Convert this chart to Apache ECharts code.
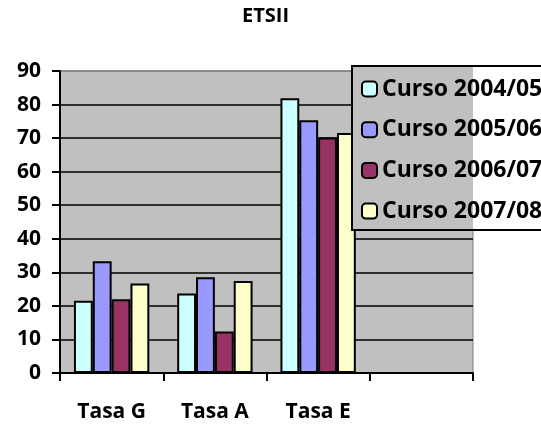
<!DOCTYPE html>
<html>
<head>
<meta charset="utf-8">
<script src="https://cdn.jsdelivr.net/npm/echarts@6/dist/echarts.min.js"></script>
<style>
  html, body { margin: 0; padding: 0; background: #fff; }
  #chart { width: 541px; height: 426px; }
</style>
</head>
<body>
<div id="chart"></div>
<script>
// Rates per course year, by category (fourth slot left empty)
const categories = ['Tasa G', 'Tasa A', 'Tasa E', ''];
const seriesNames = ['Curso 2004/05', 'Curso 2005/06', 'Curso 2006/07', 'Curso 2007/08'];
const curso0405 = [21.5, 23.7, 81.9, null];
const curso0506 = [33.3, 28.5, 75.3, null];
const curso0607 = [22.0, 12.4, 70.2, null];
const curso0708 = [26.7, 27.4, 71.5, null];
const barColors = ['#CCFFFF', '#9999FF', '#993366', '#FFFFCC'];

const FONT = '"Open Sans", sans-serif';
const values = [curso0405, curso0506, curso0607, curso0708];

const chart = echarts.init(document.getElementById('chart'), null, { renderer: 'canvas' });

// gridlines: black, except the top one which merges with the gray plot border
const splitColors = ['#000', '#000', '#000', '#000', '#000', '#000', '#000', '#000', '#000', '#808080'];

chart.setOption({
  animation: false,
  backgroundColor: '#fff',
  title: {
    text: 'ETSII',
    left: 242,
    top: 6,
    padding: 0,
    textStyle: { fontFamily: FONT, fontWeight: 'bold', fontSize: 20, color: '#000' }
  },
  legend: {
    orient: 'vertical',
    left: 352,
    top: 66,
    padding: [10, 10, 6, 9],
    itemGap: 14.7,
    itemWidth: 15,
    itemHeight: 15,
    borderColor: '#000',
    borderWidth: 2,
    backgroundColor: {
      type: 'linear', x: 0, y: 0, x2: 1, y2: 0,
      colorStops: [
        { offset: 0, color: '#C0C0C0' },
        { offset: 0.605, color: '#C0C0C0' },
        { offset: 0.605, color: '#FFFFFF' },
        { offset: 1, color: '#FFFFFF' }
      ]
    },
    textStyle: { fontFamily: FONT, fontWeight: 'bold', fontSize: 23, lineHeight: 26, color: '#000' },
    data: seriesNames
  },
  grid: {
    left: 60, right: 68, top: 71, bottom: 53,
    show: true,
    backgroundColor: '#C0C0C0',
    borderColor: '#808080',
    borderWidth: 1
  },
  xAxis: {
    type: 'category',
    data: categories,
    axisLine: { lineStyle: { color: '#000', width: 2 } },
    axisTick: { show: true, length: 8, lineStyle: { color: '#000', width: 2 } },
    axisLabel: { margin: 29, fontFamily: FONT, fontWeight: 'bold', fontSize: 21, color: '#000' },
    splitLine: { show: false }
  },
  yAxis: {
    type: 'value',
    min: 0, max: 90, interval: 10,
    axisLine: { show: true, lineStyle: { color: '#000', width: 2 } },
    axisTick: { show: true, length: 8, lineStyle: { color: '#000', width: 2 } },
    axisLabel: { margin: 19, fontFamily: FONT, fontWeight: 'bold', fontSize: 21, color: '#000' },
    splitLine: { show: true, lineStyle: { color: splitColors, width: 1.5 } }
  },
  series: seriesNames.map((name, i) => ({
    name: name,
    type: 'bar',
    data: values[i],
    barGap: '0%',
    barCategoryGap: '27%',
    itemStyle: { color: barColors[i], borderColor: '#000', borderWidth: 2 }
  }))
});
</script>
</body>
</html>
